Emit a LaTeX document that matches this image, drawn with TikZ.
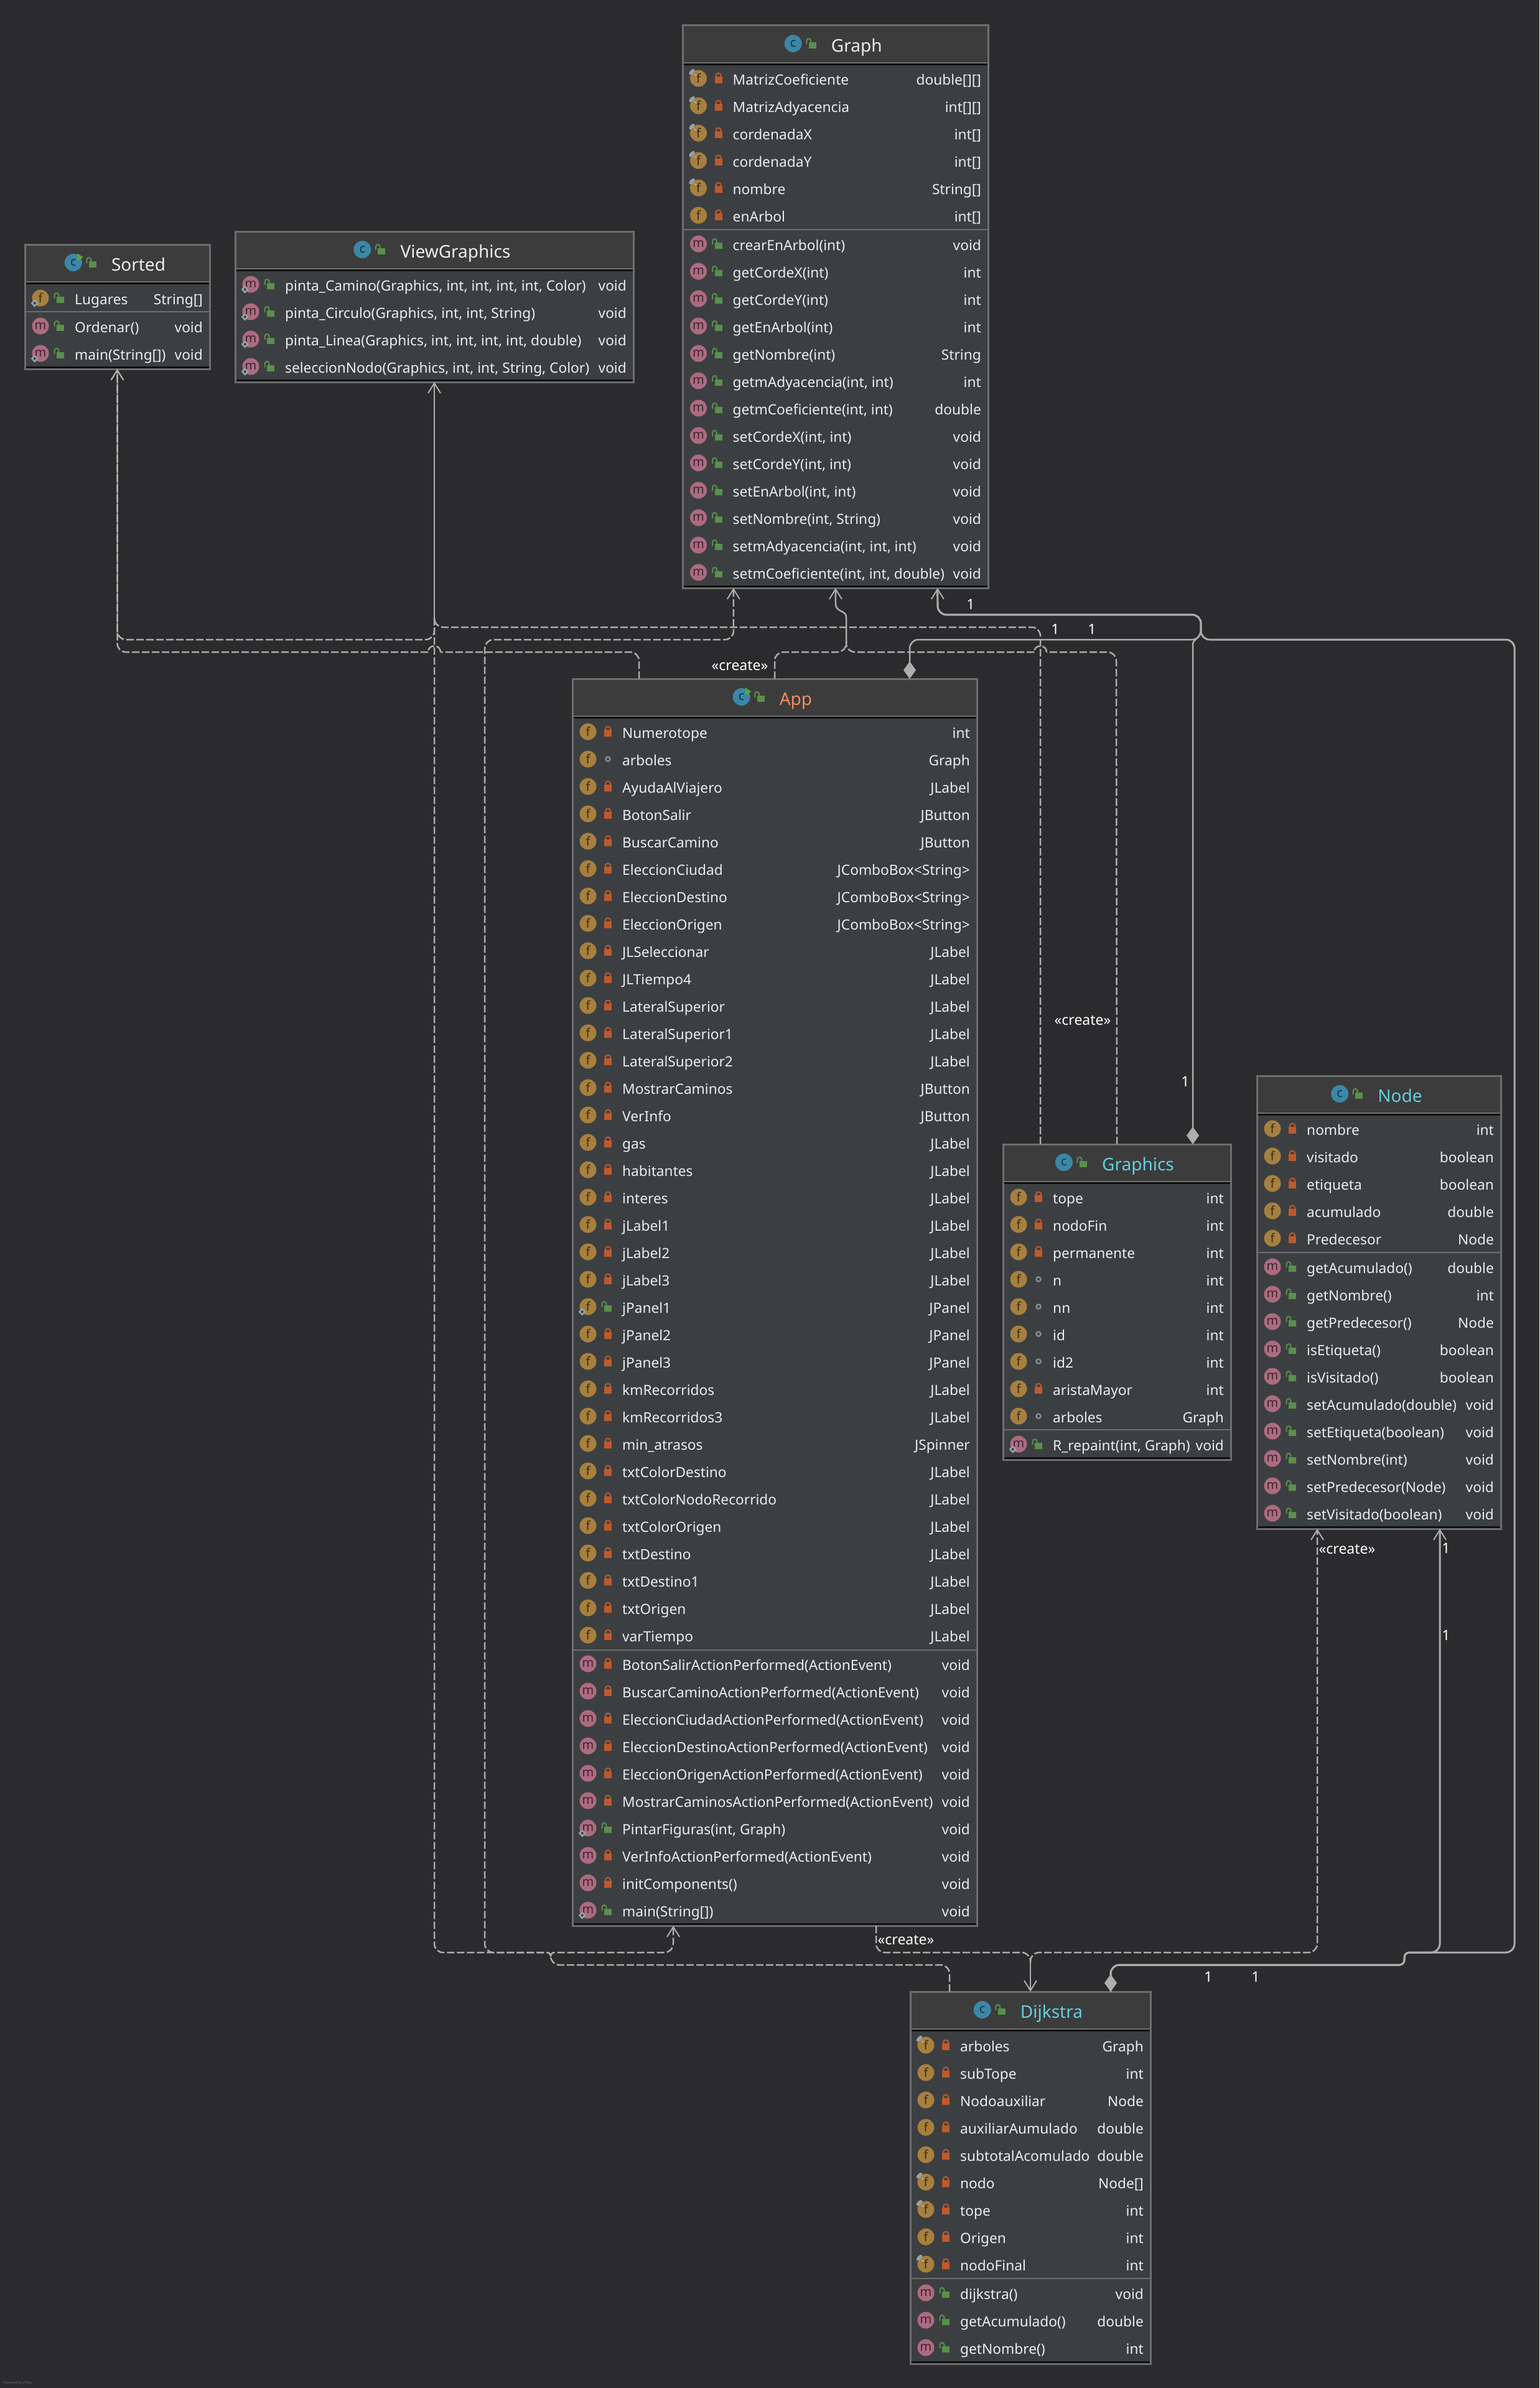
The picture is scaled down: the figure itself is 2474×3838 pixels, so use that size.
\documentclass[tikz,border=0pt]{standalone}
\usepackage{fontspec}
\usepackage{xcolor}
\usetikzlibrary{arrows.meta}
\setmainfont{Noto Sans}
\definecolor{bgcol}{HTML}{2B2B2D}
\definecolor{headcol}{HTML}{3C3C3C}
\definecolor{bodycol}{HTML}{3C3F41}
\definecolor{bordercol}{HTML}{6E6E6E}
\definecolor{linecol}{HTML}{ADADAD}
\definecolor{textcol}{HTML}{EAECEE}
\definecolor{fcol}{HTML}{A7803E}
\definecolor{mcol}{HTML}{AD6B80}
\definecolor{ccol}{HTML}{3B87A8}
\definecolor{redcol}{HTML}{BF5A2C}
\definecolor{greencol}{HTML}{58914A}
\definecolor{pincol}{HTML}{95A2AC}
\definecolor{pkgcol}{HTML}{7F8B91}
\definecolor{runcol}{HTML}{55A838}
\definecolor{cyancol}{HTML}{62CFE0}
\definecolor{orangecol}{HTML}{F08D5E}
\newcommand{\vispri}[1]{\fill[redcol,shift={(#1)}] (-6,-5) rectangle (6,6);
  \draw[redcol,line width=2pt,shift={(#1)}] (-4,-5) -- (-4,-7) .. controls (-4,-11.5) and (4,-11.5) .. (4,-7) -- (4,-5);}
\newcommand{\vispub}[1]{\fill[greencol,shift={(#1)}] (-6,-4) rectangle (6,6);
  \draw[greencol,line width=2pt,shift={(#1)}] (-9.5,-1) -- (-9.5,-6) .. controls (-9.5,-11.5) and (-2.5,-11.5) .. (-2.5,-6) -- (-2.5,-4);}
\newcommand{\vispkg}[1]{\draw[pkgcol,line width=2.5pt,shift={(#1)}] (0,-2) circle (3.6pt);}
\newcommand{\flagn}[1]{}
\newcommand{\flagf}[1]{\fill[pincol,shift={(#1)},shift={(-10.5,-10.5)},rotate=45] (0,0) ellipse [x radius=6pt,y radius=3pt];
  \draw[pincol!70!white,line width=1.2pt,shift={(#1)}] (-7,-7) -- (-3,-4);}
\newcommand{\flags}[1]{\draw[pincol,fill=bodycol,line width=2.5pt,shift={(#1)}] (-9.3,3.8) -- (-5,8.3) -- (-9.3,12.8) -- (-13.6,8.3) -- cycle;}
\newcommand{\classnode}[7]{%
  \def\boxl{#4}\def\boxr{#6}
  \node[class node,minimum width={#6-#4},minimum height={#7-#5}] (#1) at ({(#4+#6)/2},{(#5+#7)/2}) {};
  \node[head node,minimum width={#6-#4},minimum height=60pt] (#1-head) at ({(#4+#6)/2},#5+30) {};
  \draw[dark line] (#4+1.5,#5+62.5) -- (#6-1.5,#5+62.5);
  \draw[dark line] (#4+1.5,#7-3) -- (#6-1.5,#7-3);
  \node[title node,text=#3] (#1-title) at ({(#4+#6)/2+34},#5+42) {#2};
  \node[c icon] (#1-icon) at ([xshift=-61pt,yshift=13pt]#1-title.base west) {c};
  \vispub{[xshift=-30pt,yshift=11pt]#1-title.base west}}
\newcommand{\classsep}[1]{\draw[sep line] (\boxl,#1) -- (\boxr,#1);}
\newcommand{\runmark}[1]{\fill[runcol,shift={(#1-icon)}] (6,-15) -- (16,-8.5) -- (6,-2) -- cycle;}
\newcommand{\classrows}[4]{%
  \foreach \flag/\vismark/\txt/\typ [count=\rowno from 0] in {#4} {
    \pgfmathsetmacro\rowy{#3+44*\rowno}
    \node[#2 icon] (#1-#2-\rowno) at (\boxl+25,\rowy-2) {#2};
    \csname flag\flag\endcsname{\boxl+25,\rowy-2}
    \csname vis\vismark\endcsname{\boxl+57,\rowy}
    \node[row node,anchor=base west] (#1-#2-name-\rowno) at (\boxl+80,\rowy+8) {\txt};
    \node[row node,anchor=base east] (#1-#2-type-\rowno) at (\boxr-11,\rowy+8) {\typ};
  }}
\newcommand{\hopover}[2]{\draw[dep line] (#1+10,#2) .. controls (#1+10,#2-13) and (#1-10,#2-13) .. (#1-10,#2);}
\begin{document}
\begin{tikzpicture}[x=1pt,y=-1pt,>={Straight Barb[length=16pt,width=20pt,line width=2pt]},
      class node/.style={draw=bordercol,fill=bodycol,line width=3pt,inner sep=0pt,outer sep=0pt},
      head node/.style={draw=bordercol,fill=headcol,line width=3pt,inner sep=0pt,outer sep=0pt},
      title node/.style={anchor=base,inner sep=0pt,font=\fontsize{28}{32}\selectfont},
      row node/.style={inner sep=0pt,text=textcol,font=\fontsize{22.7}{26}\selectfont},
      f icon/.style={circle,fill=fcol,text=fcol!35!black,minimum size=27pt,inner sep=0pt,font=\fontsize{20}{22}\selectfont},
      m icon/.style={circle,fill=mcol,text=mcol!35!black,minimum size=27pt,inner sep=0pt,font=\fontsize{20}{22}\selectfont},
      c icon/.style={circle,fill=ccol,text=ccol!35!black,minimum size=28pt,inner sep=0pt,font=\fontsize{20}{22}\selectfont},
      sep line/.style={draw=bordercol,line width=2.5pt},
      dark line/.style={draw=black!65!bgcol,line width=3pt},
      edge label/.style={text=white,inner sep=0pt,font=\fontsize{23}{26}\selectfont},
      solid link/.style={draw=linecol,line width=2.5pt},
      bent link/.style={solid link,rounded corners=14pt},
      dep line/.style={draw=linecol,line width=2.5pt,dash pattern=on 12pt off 4pt},
      dep bent/.style={dep line,rounded corners=14pt},
      diamond tip/.style={{Diamond[length=28pt,width=20pt]}-}]
    \fill[bgcol] (0,0) rectangle (2474,3838);
    \useasboundingbox (0,0) rectangle (2474,3838);

    \classnode{Graph}{Graph}{textcol}{1097.5}{41}{1588}{945}
    \classsep{369}
    \classrows{Graph}{f}{128}{f/pri/MatrizCoeficiente/double[][],f/pri/MatrizAdyacencia/int[][],f/pri/cordenadaX/int[],f/pri/cordenadaY/int[],f/pri/nombre/String[],n/pri/enArbol/int[]}
    \classrows{Graph}{m}{394}{n/pub/crearEnArbol(int)/void,n/pub/getCordeX(int)/int,n/pub/getCordeY(int)/int,n/pub/getEnArbol(int)/int,n/pub/getNombre(int)/String,n/pub/{getmAdyacencia(int, int)}/int,n/pub/{getmCoeficiente(int, int)}/double,n/pub/{setCordeX(int, int)}/void,n/pub/{setCordeY(int, int)}/void,n/pub/{setEnArbol(int, int)}/void,n/pub/{setNombre(int, String)}/void,n/pub/{setmAdyacencia(int, int, int)}/void,n/pub/{setmCoeficiente(int, int, double)}/void}

    \classnode{Sorted}{Sorted}{textcol}{40}{393}{337}{593}
    \runmark{Sorted}
    \classsep{501}
    \classrows{Sorted}{f}{481}{s/pub/Lugares/String[]}
    \classrows{Sorted}{m}{526}{n/pub/Ordenar()/void,s/pub/main(String[])/void}

    \classnode{ViewGraphics}{ViewGraphics}{textcol}{378}{372}{1018}{614}
    \classrows{ViewGraphics}{m}{459}{s/pub/{pinta\_Camino(Graphics, int, int, int, int, Color)}/void,s/pub/{pinta\_Circulo(Graphics, int, int, String)}/void,s/pub/{pinta\_Linea(Graphics, int, int, int, int, double)}/void,s/pub/{seleccionNodo(Graphics, int, int, String, Color)}/void}

    \classnode{App}{App}{orangecol}{920}{1091}{1570}{3095}
    \runmark{App}
    \classsep{2652}
    \classrows{App}{f}{1178}{n/pri/Numerotope/int,n/pkg/arboles/Graph,n/pri/AyudaAlViajero/JLabel,n/pri/BotonSalir/JButton,n/pri/BuscarCamino/JButton,n/pri/EleccionCiudad/JComboBox<String>,n/pri/EleccionDestino/JComboBox<String>,n/pri/EleccionOrigen/JComboBox<String>,n/pri/JLSeleccionar/JLabel,n/pri/JLTiempo4/JLabel,n/pri/LateralSuperior/JLabel,n/pri/LateralSuperior1/JLabel,n/pri/LateralSuperior2/JLabel,n/pri/MostrarCaminos/JButton,n/pri/VerInfo/JButton,n/pri/gas/JLabel,n/pri/habitantes/JLabel,n/pri/interes/JLabel,n/pri/jLabel1/JLabel,n/pri/jLabel2/JLabel,n/pri/jLabel3/JLabel,s/pub/jPanel1/JPanel,n/pri/jPanel2/JPanel,n/pri/jPanel3/JPanel,n/pri/kmRecorridos/JLabel,n/pri/kmRecorridos3/JLabel,n/pri/min\_atrasos/JSpinner,n/pri/txtColorDestino/JLabel,n/pri/txtColorNodoRecorrido/JLabel,n/pri/txtColorOrigen/JLabel,n/pri/txtDestino/JLabel,n/pri/txtDestino1/JLabel,n/pri/txtOrigen/JLabel,n/pri/varTiempo/JLabel}
    \classrows{App}{m}{2676}{n/pri/BotonSalirActionPerformed(ActionEvent)/void,n/pri/BuscarCaminoActionPerformed(ActionEvent)/void,n/pri/EleccionCiudadActionPerformed(ActionEvent)/void,n/pri/EleccionDestinoActionPerformed(ActionEvent)/void,n/pri/EleccionOrigenActionPerformed(ActionEvent)/void,n/pri/MostrarCaminosActionPerformed(ActionEvent)/void,s/pub/{PintarFiguras(int, Graph)}/void,n/pri/VerInfoActionPerformed(ActionEvent)/void,n/pri/initComponents()/void,s/pub/main(String[])/void}

    \classnode{Graphics}{Graphics}{cyancol}{1612}{1839}{1978}{2346}
    \classsep{2298}
    \classrows{Graphics}{f}{1926}{n/pri/tope/int,n/pri/nodoFin/int,n/pri/permanente/int,n/pkg/n/int,n/pkg/nn/int,n/pkg/id/int,n/pkg/id2/int,n/pri/aristaMayor/int,n/pkg/arboles/Graph}
    \classrows{Graphics}{m}{2323}{s/pub/{R\_repaint(int, Graph)}/void}

    \classnode{Node}{Node}{cyancol}{2020}{1729}{2412}{2457}
    \classsep{2013}
    \classrows{Node}{f}{1816}{n/pri/nombre/int,n/pri/visitado/boolean,n/pri/etiqueta/boolean,n/pri/acumulado/double,n/pri/Predecesor/Node}
    \classrows{Node}{m}{2038}{n/pub/getAcumulado()/double,n/pub/getNombre()/int,n/pub/getPredecesor()/Node,n/pub/isEtiqueta()/boolean,n/pub/isVisitado()/boolean,n/pub/setAcumulado(double)/void,n/pub/setEtiqueta(boolean)/void,n/pub/setNombre(int)/void,n/pub/setPredecesor(Node)/void,n/pub/setVisitado(boolean)/void}

    \classnode{Dijkstra}{Dijkstra}{cyancol}{1463}{3201}{1849}{3799}
    \classsep{3662}
    \classrows{Dijkstra}{f}{3289}{f/pri/arboles/Graph,n/pri/subTope/int,n/pri/Nodoauxiliar/Node,n/pri/auxiliarAumulado/double,n/pri/subtotalAcomulado/double,f/pri/nodo/Node[],f/pri/tope/int,n/pri/Origen/int,f/pri/nodoFinal/int}
    \classrows{Dijkstra}{m}{3687}{n/pub/dijkstra()/void,n/pub/getAcumulado()/double,n/pub/getNombre()/int}

    \coordinate (viewJoin) at (698,993);
    \coordinate (graphJoin) at (1360,1030);
    \coordinate (ownJoin) at (1930,1010);
    \coordinate (dijkstraJoin) at (1656,3154);
    \coordinate (leftSplit) at (885,3142);

    \draw[solid link,->] (viewJoin) -- (ViewGraphics.south);
    \draw[dep bent] ([xshift=-123pt]Graphics.north) -- (1672,1008) -- (698,1008) -- (viewJoin);
    \draw[dep bent,->] (viewJoin) -- (698,1028) -- (188.5,1028) -- (Sorted.south);
    \draw[dep bent,->] ([xshift=-218pt]App.north) -- (1027,1048) -- (708,1048) (688,1048) -- (188.5,1048) -- (Sorted.south);
    \hopover{698}{1048}
    \draw[dep bent] ([xshift=-130pt]Dijkstra.north) -- (1526,3158) -- (885,3158) -- (leftSplit);
    \draw[dep bent] (leftSplit) [rounded corners=6pt] -- (885,3138) [rounded corners=14pt] -- (698,3138) -- (viewJoin);
    \draw[dep bent,->] (leftSplit) [rounded corners=6pt] -- (885,3138) [rounded corners=14pt] -- (779,3138) -- (779,1028) -- (1179,1028) -- ([xshift=-164pt]Graph.south);
    \draw[dep bent,->] (leftSplit) [rounded corners=6pt] -- (885,3138) [rounded corners=14pt] -- (1082,3138) -- ([xshift=-163pt]App.south);

    \draw[solid link,->] (graphJoin) -- (1360,992) .. controls (1360,980) and (1343,985) .. (1343,970) -- (Graph.south);
    \draw[dep bent] (App.north) -- (1245,1048) -- (1360,1048) -- (graphJoin);
    \draw[dep bent] (Graphics.north) -- (1794,1048) -- (1682,1048) (1662,1048) -- (1360,1048) -- (graphJoin);
    \hopover{1672}{1048}

    \draw[bent link,line width=3.2pt,->] (ownJoin) -- (1930,988) -- (1507,988) -- ([xshift=164pt]Graph.south);
    \draw[bent link,diamond tip] ([xshift=217pt]App.north) -- (1462,1028) -- (1930,1028) -- (ownJoin);
    \draw[solid link,diamond tip] ([xshift=122pt]Graphics.north) -- (1917,1036) .. controls (1917,1026) and (1930,1028) .. (ownJoin);
    \draw[bent link,line width=3pt,diamond tip] ([xshift=129pt]Dijkstra.north) -- (1785,3158) [rounded corners=8pt] -- (2257,3158) -- (2257,3138) [rounded corners=14pt] -- (2434,3138) -- (2434,1028) -- (1930,1028) -- (ownJoin);
    \draw[bent link,line width=3pt,->] ([xshift=129pt]Dijkstra.north) -- (1785,3158) [rounded corners=8pt] -- (2257,3158) -- (2257,3138) [rounded corners=14pt] -- (2314,3138) -- ([xshift=98pt]Node.south);

    \draw[solid link,->] (dijkstraJoin) -- (Dijkstra.north);
    \draw[dep bent] ([xshift=163pt]App.south) -- (1408,3138) -- (1656,3138) -- (dijkstraJoin);
    \draw[dep bent,->] (dijkstraJoin) -- (1656,3138) -- (2117,3138) -- ([xshift=-99pt]Node.south);

    \node[edge label] (createApp) at (1189,1070) {«create»};
    \node[edge label] (createGraphics) at (1740,1640) {«create»};
    \node[edge label] (createNode) at (2165,2490) {«create»};
    \node[edge label] (createDijkstra) at (1456,3118) {«create»};
    \node[edge label] (oneGraph) at (1560,971) {1};
    \node[edge label] (oneAppA) at (1696,1011) {1};
    \node[edge label] (oneAppB) at (1755,1011) {1};
    \node[edge label] (oneGraphics) at (1905,1738) {1};
    \node[edge label] (oneNodeA) at (2324,2488) {1};
    \node[edge label] (oneNodeB) at (2324,2628) {1};
    \node[edge label] (oneDijkstraA) at (1942,3177) {1};
    \node[edge label] (oneDijkstraB) at (2018,3177) {1};
    \node[anchor=west,inner sep=0pt,text=bordercol,font=\fontsize{5.5}{6}\selectfont] (poweredBy) at (5,3830) {Powered by yFiles};
\end{tikzpicture}
\end{document}
